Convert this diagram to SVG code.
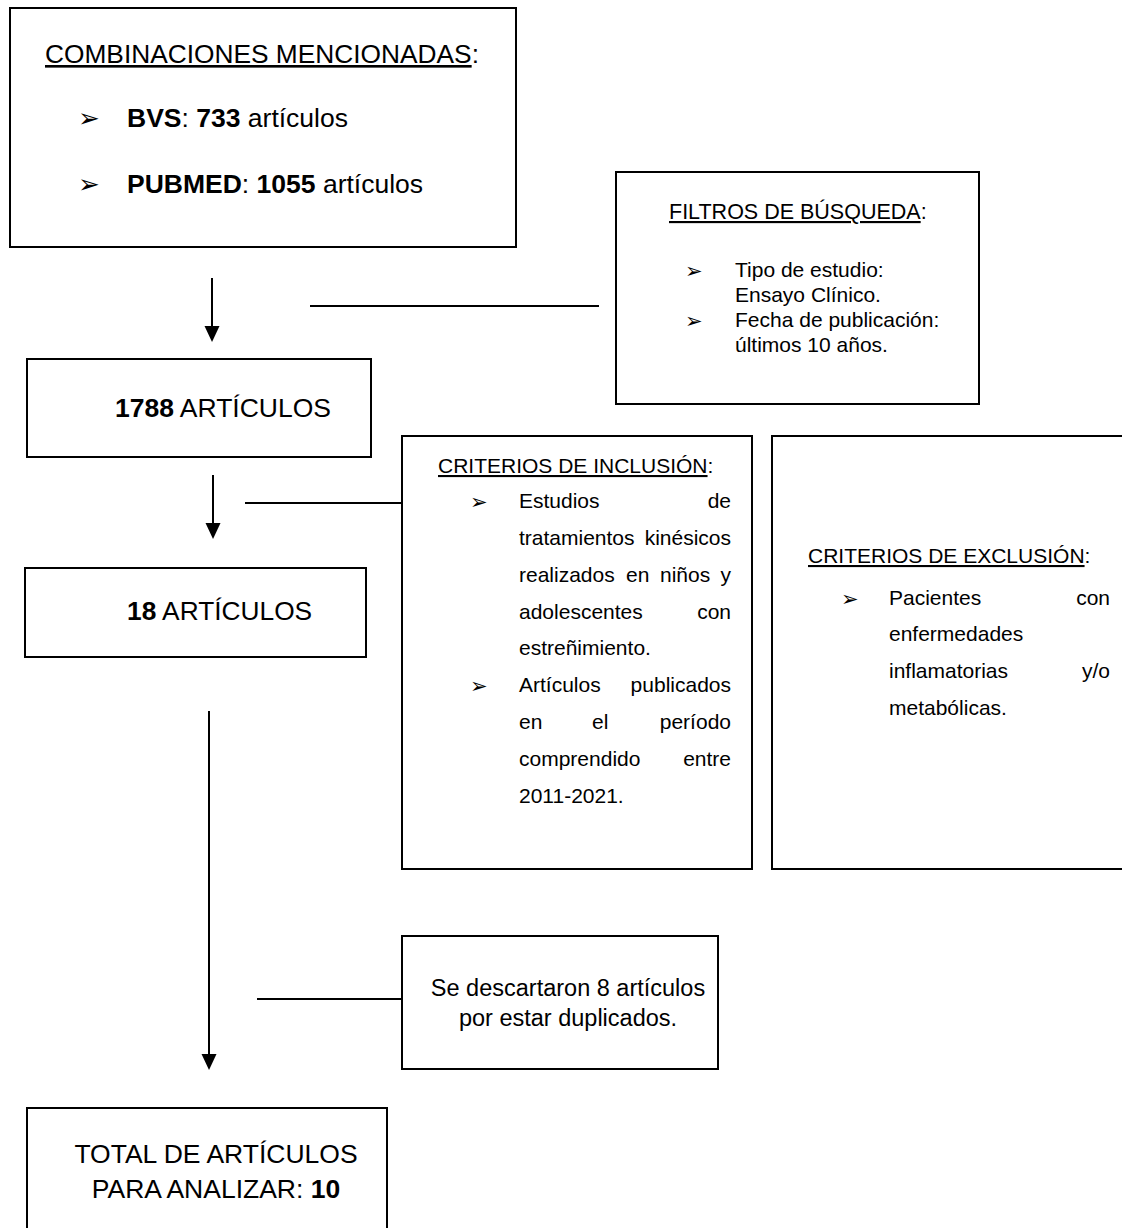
<svg xmlns="http://www.w3.org/2000/svg" width="1122" height="1228" viewBox="0 0 1122 1228">
<defs>
<style>
.box{fill:#fff;stroke:#000;stroke-width:2}
.t{font-family:"Liberation Sans",Arial,sans-serif;fill:#000}
.b{font-weight:bold}
.u{text-decoration:underline}
.bul{font-family:"DejaVu Sans",sans-serif;fill:#000}
.ln{stroke:#000;stroke-width:2;fill:none}
</style>
<marker id="ah" markerUnits="userSpaceOnUse" markerWidth="16" markerHeight="16" refX="0" refY="7.5" orient="auto">
<path d="M0,0 L16,7.5 L0,15 z" fill="#000"/>
</marker>
</defs>
<rect width="1122" height="1228" fill="#fff"/>

<g id="n-combinaciones">
<rect class="box" x="10" y="8" width="506" height="239"/>
<text class="t" x="45" y="63" font-size="26.3"><tspan class="u">COMBINACIONES MENCIONADAS</tspan>:</text>
<text class="bul" x="78" y="127" font-size="26">➢</text>
<text class="t" x="127" y="127" font-size="26.5"><tspan class="b">BVS</tspan>: <tspan class="b">733</tspan> artículos</text>
<text class="bul" x="78" y="193" font-size="26">➢</text>
<text class="t" x="127" y="193" font-size="26.5"><tspan class="b">PUBMED</tspan>: <tspan class="b">1055</tspan> artículos</text>
</g>

<g id="n-filtros">
<rect class="box" x="616" y="172" width="363" height="232"/>
<text class="t" x="669" y="219" font-size="21.5"><tspan class="u">FILTROS DE BÚSQUEDA</tspan>:</text>
<text class="bul" x="685" y="278" font-size="21">➢</text>
<text class="t" x="735" y="277" font-size="21">Tipo de estudio:</text>
<text class="t" x="735" y="302" font-size="21">Ensayo Clínico.</text>
<text class="bul" x="685" y="328" font-size="21">➢</text>
<text class="t" x="735" y="327" font-size="21">Fecha de publicación:</text>
<text class="t" x="735" y="352" font-size="21">últimos 10 años.</text>
</g>

<g id="n-1788">
<rect class="box" x="27" y="359" width="344" height="98"/>
<text class="t" x="115" y="417" font-size="26.5"><tspan class="b">1788</tspan> ARTÍCULOS</text>
</g>

<g id="n-inclusion">
<rect class="box" x="402" y="436" width="350" height="433"/>
<text class="t" x="438" y="473" font-size="21"><tspan class="u">CRITERIOS DE INCLUSIÓN</tspan>:</text>
<text class="bul" x="470" y="509" font-size="21">➢</text>
<text class="t" font-size="21" y="508"><tspan x="519">Estudios</tspan><tspan x="731" text-anchor="end">de</tspan></text>
<text class="t" font-size="21" y="545"><tspan x="519">tratamientos</tspan><tspan x="731" text-anchor="end">kinésicos</tspan></text>
<text class="t" font-size="21" y="582"><tspan x="519">realizados</tspan><tspan x="626">en</tspan><tspan x="660">niños</tspan><tspan x="731" text-anchor="end">y</tspan></text>
<text class="t" font-size="21" y="619"><tspan x="519">adolescentes</tspan><tspan x="731" text-anchor="end">con</tspan></text>
<text class="t" font-size="21" y="655" x="519">estreñimiento.</text>
<text class="bul" x="470" y="693" font-size="21">➢</text>
<text class="t" font-size="21" y="692"><tspan x="519">Artículos</tspan><tspan x="731" text-anchor="end">publicados</tspan></text>
<text class="t" font-size="21" y="729"><tspan x="519">en</tspan><tspan x="592">el</tspan><tspan x="731" text-anchor="end">período</tspan></text>
<text class="t" font-size="21" y="766"><tspan x="519">comprendido</tspan><tspan x="731" text-anchor="end">entre</tspan></text>
<text class="t" font-size="21" y="803" x="519">2011-2021.</text>
</g>

<g id="n-exclusion">
<rect class="box" x="772" y="436" width="370" height="433"/>
<text class="t" x="808" y="563" font-size="21"><tspan class="u">CRITERIOS DE EXCLUSIÓN</tspan>:</text>
<text class="bul" x="841" y="606" font-size="21">➢</text>
<text class="t" font-size="21" y="605"><tspan x="889">Pacientes</tspan><tspan x="1110" text-anchor="end">con</tspan></text>
<text class="t" font-size="21" y="641" x="889">enfermedades</text>
<text class="t" font-size="21" y="678"><tspan x="889">inflamatorias</tspan><tspan x="1110" text-anchor="end">y/o</tspan></text>
<text class="t" font-size="21" y="715" x="889">metabólicas.</text>
</g>

<g id="n-18">
<rect class="box" x="25" y="568" width="341" height="89"/>
<text class="t" x="127" y="620" font-size="26.3"><tspan class="b">18</tspan> ARTÍCULOS</text>
</g>

<g id="n-descartados">
<rect class="box" x="402" y="936" width="316" height="133"/>
<text class="t" x="568" y="996" font-size="23.5" text-anchor="middle">Se descartaron 8 artículos</text>
<text class="t" x="568" y="1026" font-size="23.5" text-anchor="middle">por estar duplicados.</text>
</g>

<g id="n-total">
<rect class="box" x="27" y="1108" width="360" height="140"/>
<text class="t" x="216" y="1163" font-size="26.5" text-anchor="middle">TOTAL DE ARTÍCULOS</text>
<text class="t" x="216" y="1198" font-size="26.5" text-anchor="middle">PARA ANALIZAR: <tspan class="b">10</tspan></text>
</g>

<g id="connectors">
<line class="ln" x1="212" y1="278" x2="212" y2="326" marker-end="url(#ah)"/>
<line class="ln" x1="310" y1="306" x2="599" y2="306"/>
<line class="ln" x1="213" y1="475" x2="213" y2="523" marker-end="url(#ah)"/>
<line class="ln" x1="245" y1="503" x2="402" y2="503"/>
<line class="ln" x1="209" y1="711" x2="209" y2="1054" marker-end="url(#ah)"/>
<line class="ln" x1="257" y1="999" x2="402" y2="999"/>
</g>
</svg>
